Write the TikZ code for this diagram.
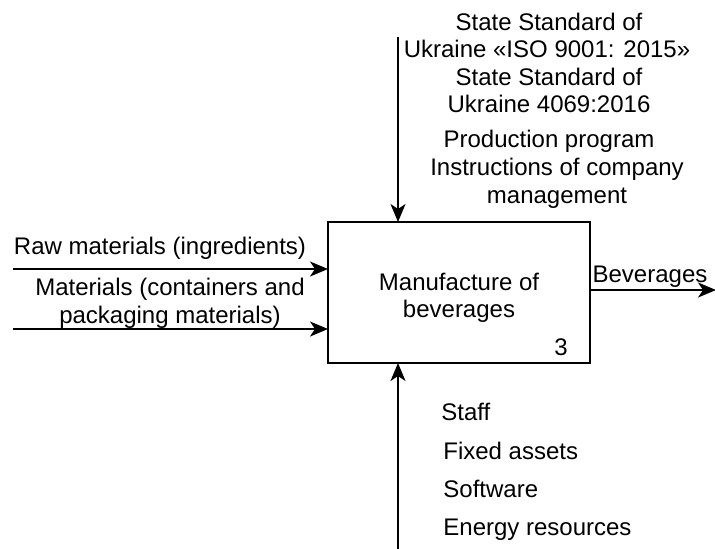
\documentclass[tikz,border=0pt]{standalone}
\usepackage{fontspec}
\setmainfont{Liberation Sans}
\usetikzlibrary{arrows.meta}
\begin{document}
\begin{tikzpicture}[x=0.5pt,y=-0.5pt,
  lbl/.style={font=\fontsize{12}{13.75}\selectfont, inner sep=0pt, anchor=base},
  lbll/.style={lbl, anchor=base west},
  flow/.style={line width=1pt, -{Stealth[length=9pt,width=7.5pt,inset=2.5pt]}},
  func/.style={draw, line width=1pt, inner sep=0pt, outer sep=0pt,
    minimum width=131pt, minimum height=70.5pt}]
\useasboundingbox (0,0) rectangle (715,548);

% function block
\node[func] (box) at (459,292.5) {};
\node[lbl] (f1) at (459,290) {Manufacture of};
\node[lbl] (f2) at (459,317) {beverages};
\node[lbl] (fnum) at (561,355) {3};

% controls
\node[lbl] (c1) at (549,30) {State Standard of};
\node[lbl] (c2) at (547,57) {Ukraine «ISO 9001: 2015»};
\node[lbl] (c3) at (549,85) {State Standard of};
\node[lbl] (c4) at (549,112) {Ukraine 4069:2016};
\node[lbl] (c5) at (549,147) {Production program};
\node[lbl] (c6) at (557,175) {Instructions of company};
\node[lbl] (c7) at (557,203) {management};

% inputs
\node[lbl] (i1) at (160,254) {Raw materials (ingredients)};
\node[lbl] (i2) at (170,295) {Materials (containers and};
\node[lbl] (i3) at (170,323) {packaging materials)};

% output
\node[lbl] (o1) at (650,282) {Beverages};

% mechanisms
\node[lbll] (m1) at (441,420) {Staff};
\node[lbll] (m2) at (443,459) {Fixed assets};
\node[lbll] (m3) at (443,497) {Software};
\node[lbll] (m4) at (443,535) {Energy resources};

% free ends of the arrows
\coordinate (ctl) at (398,37);
\coordinate (in1) at (13,269);
\coordinate (in2) at (13,329);
\coordinate (out) at (716,290);
\coordinate (mech) at (398,549);

\draw[flow] (ctl) -- (ctl |- box.north);
\draw[flow] (in1) -- (in1 -| box.west);
\draw[flow] (in2) -- (in2 -| box.west);
\draw[flow] (out -| box.east) -- (out);
\draw[flow] (mech) -- (mech |- box.south);
\end{tikzpicture}
\end{document}
